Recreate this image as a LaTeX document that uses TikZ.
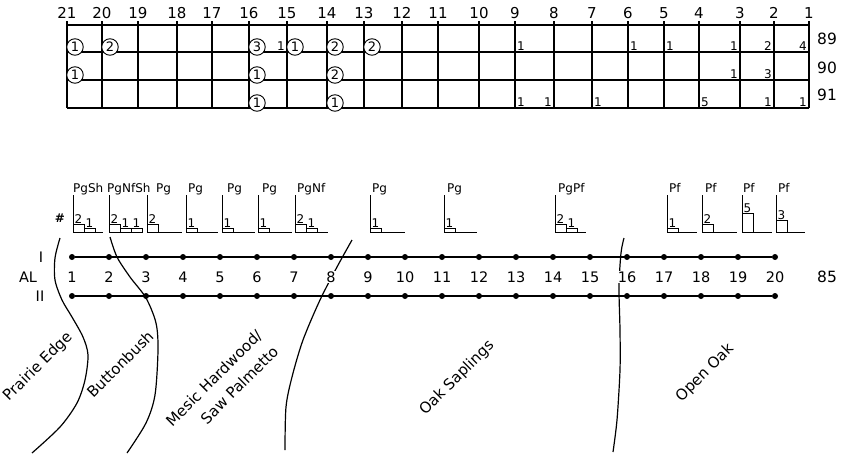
\documentclass[tikz,border=0pt]{standalone}
\usepackage{fontspec}
\setmainfont{DejaVu Sans}
\usepackage{tikz}

\begin{document}
\begin{tikzpicture}[x=1pt, y=-1pt,
    gridline/.style={line width=1.5pt},
    circ/.style={circle, draw, fill=white, line width=0.9pt, minimum size=16.5pt, inner sep=0pt, font=\fontsize{13}{13}\selectfont},
    entry/.style={inner sep=1pt, font=\fontsize{12}{12}\selectfont},
    barbox/.style={draw, line width=0.8pt},
    dot/.style={circle, fill, minimum size=6pt, inner sep=0pt},
    transect/.style={line width=1.8pt},
    boundary/.style={line width=1.2pt},
    zone/.style={rotate=45, font=\fontsize{15}{23}\selectfont}]
  \useasboundingbox (0,0) rectangle (844,455);

  % plot grid, columns 21 to 1
  \foreach \y in {25,52,80,108}
    \draw[gridline] (67,\y) -- (809,\y);
  \foreach \k/\x in {21/67,20/102,19/138,18/177,17/212,16/249,15/287,14/327,13/364,12/402,11/438,
                     10/479,9/515,8/554,7/592,6/628,5/664,4/699,3/740,2/774,1/809} {
    \draw[gridline] (\x,21) -- (\x,108);
    \node[anchor=base, font=\fontsize{15}{15}\selectfont] (c\k) at (\x,18) {\k};
  }
  \foreach \r/\y in {89/45,90/73,91/100}
    \node[anchor=base west, inner sep=0pt, font=\fontsize{15.5}{15}\selectfont] (r\r) at (817,\y) {\r};

  \foreach \x/\y/\v in {67/52/1,102/52/2,249/52/3,287/52/1,327/52/2,364/52/2,
                        67/80/1,249/80/1,327/80/2,249/108/1,327/108/1}
    \node[circ] at (\x+8,\y-5) {\v};
  \foreach \x/\y/\v in {515/52/1,628/52/1,664/52/1,515/108/1,592/108/1,699/108/5}
    \node[entry, anchor=south west] at (\x+1,\y) {\v};
  \foreach \x/\y/\v in {287/52/1,740/52/1,774/52/2,809/52/4,740/80/1,774/80/3,554/108/1,774/108/1,809/108/1}
    \node[entry, anchor=south east] at (\x-1,\y) {\v};

  % bar charts
  \node[font=\bfseries\fontsize{12}{12}\selectfont] (hash) at (60,218) {\#};
  \foreach \ax/\lx/\lab/\len/\vals in {73/73/PgSh/30/{2,1},109/107/PgNfSh/34/{2,1,1},147/156/Pg/35/{2},
      186/188/Pg/32/{1},222/227/Pg/33/{1},258/262/Pg/34/{1},295/297/PgNf/33/{2,1},370/372/Pg/35/{1},
      444/447/Pg/33/{1},555/558/PgPf/31/{2,1},667/669/Pf/30/{1},702/705/Pf/35/{2},742/743/Pf/30/{5},776/778/Pf/29/{3}} {
    \draw[line width=0.9pt] (\ax,195) -- (\ax,232) -- (\ax+\len,232);
    \node[anchor=base west, inner sep=0pt, font=\fontsize{12}{12}\selectfont] at (\lx,192) {\lab};
    \foreach \v [count=\j] in \vals {
      \draw[barbox] (\ax+11*\j-11,232) rectangle (\ax+11*\j,232-3.8*\v);
      \node[entry, anchor=south west, inner sep=0.5pt] at (\ax+11*\j-10,232-3.8*\v) {\v};
    }
  }

  % zone boundaries
  \draw[boundary] plot[smooth] coordinates {(60,238) (55,258) (55,280) (62,300) (72,317) (83,337) (88,355) (85,380) (77,403) (60,427) (32,453)};
  \draw[boundary] plot[smooth] coordinates {(110,237) (117,257) (130,277) (146,298) (156,323) (158,350) (155,395) (146,423) (127,453)};
  \draw[boundary] plot[smooth] coordinates {(352,240) (337,267) (320,300) (303,340) (292,377) (286,407) (285,450)};
  \draw[boundary] plot[smooth] coordinates {(624,238) (621,253) (619,287) (620,330) (620,370) (617,420) (613,452)};

  % transect lines
  \foreach \i in {1,...,20} {
    \pgfmathsetmacro\xx{72+37*(\i-1)}
    \node[dot] (a\i) at (\xx,257) {};
    \node[dot] (b\i) at (\xx,296) {};
    \node[fill=white, inner sep=1pt, font=\fontsize{14.5}{14}\selectfont] (n\i) at (\xx,277) {\i};
  }
  \draw[transect] (a1) -- (a20);
  \draw[transect] (b1) -- (b20);
  \node[font=\fontsize{14.5}{14}\selectfont] (lI) at (41,257) {I};
  \node[font=\fontsize{14.5}{14}\selectfont] (lAL) at (28,277) {AL};
  \node[font=\fontsize{14.5}{14}\selectfont] (lII) at (40,296) {II};
  \node[font=\fontsize{15.5}{15}\selectfont] (yr) at (827,277) {85};

  % zone names
  \node[zone] (pe) at (38,367) {Prairie Edge};
  \node[zone] (bb) at (120,364) {Buttonbush};
  \node[zone, align=right] (mh) at (222,386) {Mesic Hardwood/\\Saw Palmetto};
  \node[zone] (os) at (457,378) {Oak Saplings};
  \node[zone] (oo) at (705,373) {Open Oak};
\end{tikzpicture}
\end{document}
